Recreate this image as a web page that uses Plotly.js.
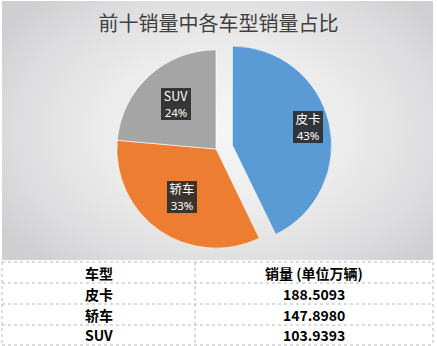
<!DOCTYPE html>
<html>
<head>
<meta charset="utf-8">
<script src="https://cdn.plot.ly/plotly-3.0.1.min.js"></script>
<style>
  html, body { margin: 0; padding: 0; background: #ffffff; }
  #wrap { position: relative; width: 437px; height: 346px; overflow: hidden; }
  #bg { position: absolute; left: 2px; top: 1px; width: 431px; height: 259px;
        background: radial-gradient(ellipse 62% 70% at 52% 50%, #f6f6f6 0%, #ececec 45%, #dcdcde 80%, #cfcfd2 100%); }
  #chart { position: absolute; left: 0; top: 0; width: 437px; height: 346px; }
</style>
</head>
<body>
<div id="wrap"><div id="bg"></div><div id="chart"></div></div>
<script>
// ---- data ----
const categories = ['皮卡', '轿车', 'SUV'];
const sales = [188.5093, 147.8980, 103.9393];
const salesText = ['188.5093', '147.8980', '103.9393'];
const pctLabels = ['43%', '33%', '24%'];
const tableHeader = ['车型', '销量 (单位万辆)'];
const chartTitle = '前十销量中各车型销量占比';

// ---- layout helpers ----
const W = 437, H = 346;
const colors = ['#5b9bd5', '#ed7d31', '#a5a5a5'];
const pulls = [0.17, 0, 0];
const pieDomain = { x: [100 / W, 332 / W], y: [1 - 265 / H, 1 - 33 / H] };
const labelR = [0.78, 0.6, 0.6];

// compute pie geometry the same way plotly does, to place the label boxes
const maxPull = Math.max.apply(null, pulls);
const boxW = W * (pieDomain.x[1] - pieDomain.x[0]);
const boxH = H * (pieDomain.y[1] - pieDomain.y[0]);
const rPx = Math.min(boxW, boxH) / 2 / (1 + maxPull);
const cxPx = W * (pieDomain.x[0] + pieDomain.x[1]) / 2;
const cyPx = H * (1 - pieDomain.y[0]) - boxH / 2;
const total = sales.reduce((a, b) => a + b, 0);

const annotations = [];
const lblFont = { family: 'Noto Sans CJK SC, Noto Sans, sans-serif', size: 12.5, color: '#ffffff' };
const pctFont = { family: 'Noto Sans, sans-serif', size: 11.5, color: '#ffffff' };
const lblBg = 'rgba(45,45,45,0.92)';
let cum = 0;
sales.forEach((v, i) => {
  const mid = (cum + v / 2) / total * 2 * Math.PI; // clockwise from 12 o'clock
  cum += v;
  const dx = Math.sin(mid), dy = -Math.cos(mid);
  const d = rPx * (labelR[i] + pulls[i]);
  const x = cxPx + dx * d, y = cyPx + dy * d;
  // two stacked boxes of equal width so they read as one label box
  annotations.push({
    xref: 'paper', yref: 'paper', x: x / W, y: 1 - y / H,
    xanchor: 'center', yanchor: 'bottom', showarrow: false,
    text: categories[i], font: lblFont, width: 30, height: 17,
    bgcolor: lblBg, borderpad: 0, borderwidth: 0, align: 'center', valign: 'bottom'
  });
  annotations.push({
    xref: 'paper', yref: 'paper', x: x / W, y: 1 - y / H,
    xanchor: 'center', yanchor: 'top', showarrow: false,
    text: pctLabels[i], font: pctFont, width: 30, height: 15,
    bgcolor: lblBg, borderpad: 0, borderwidth: 0, align: 'center', valign: 'top'
  });
});

// ---- table (grid as shapes, text as annotations built from the arrays) ----
const tblX = [2, 195, 433];                 // column borders (px)
const tblY = [262, 283, 304, 325, 345];     // row borders (px)
const px = v => v / W, py = v => 1 - v / H;
const shapes = [];
const gridLine = { color: '#b8b8b8', width: 1, dash: 'dot' };
tblY.forEach(y => shapes.push({ type: 'line', xref: 'paper', yref: 'paper',
  x0: px(tblX[0]), x1: px(tblX[2]), y0: py(y), y1: py(y), line: gridLine }));
tblX.forEach(x => shapes.push({ type: 'line', xref: 'paper', yref: 'paper',
  x0: px(x), x1: px(x), y0: py(tblY[0]), y1: py(tblY[tblY.length - 1]), line: gridLine }));
// white table body
shapes.unshift({ type: 'rect', xref: 'paper', yref: 'paper', layer: 'below',
  x0: px(tblX[0]), x1: px(tblX[2]), y0: py(tblY[0]), y1: py(tblY[tblY.length - 1]),
  fillcolor: '#ffffff', line: { width: 0 } });

const rows = [tableHeader].concat(categories.map((c, i) => [c, salesText[i]]));
const tblFont = { family: 'Noto Sans CJK SC, sans-serif', size: 14, color: '#000000', weight: 'bold' };
rows.forEach((row, r) => {
  row.forEach((txt, c) => {
    annotations.push({
      xref: 'paper', yref: 'paper',
      x: px((tblX[c] + tblX[c + 1]) / 2), y: py((tblY[r] + tblY[r + 1]) / 2),
      xanchor: 'center', yanchor: 'middle', showarrow: false,
      text: '<b>' + txt + '</b>', font: tblFont
    });
  });
});

const pie = {
  type: 'pie',
  labels: categories,
  values: sales,
  sort: false,
  direction: 'clockwise',
  rotation: 0,
  pull: pulls,
  marker: { colors: colors, line: { color: 'rgba(255,255,255,0.6)', width: 1 } },
  textinfo: 'none',
  hoverinfo: 'label+percent',
  showlegend: false,
  domain: pieDomain
};

const layout = {
  width: W, height: H,
  margin: { l: 0, r: 0, t: 0, b: 0 },
  paper_bgcolor: 'rgba(0,0,0,0)',
  plot_bgcolor: 'rgba(0,0,0,0)',
  title: {
    text: chartTitle,
    x: 0.5, xanchor: 'center', xref: 'paper',
    y: 1 - 24 / H, yanchor: 'middle', yref: 'container',
    font: { family: 'Noto Sans CJK SC, sans-serif', size: 20, color: '#404040' }
  },
  shapes: shapes,
  annotations: annotations
};

Plotly.newPlot('chart', [pie], layout, { displayModeBar: false, staticPlot: true });
</script>
</body>
</html>
